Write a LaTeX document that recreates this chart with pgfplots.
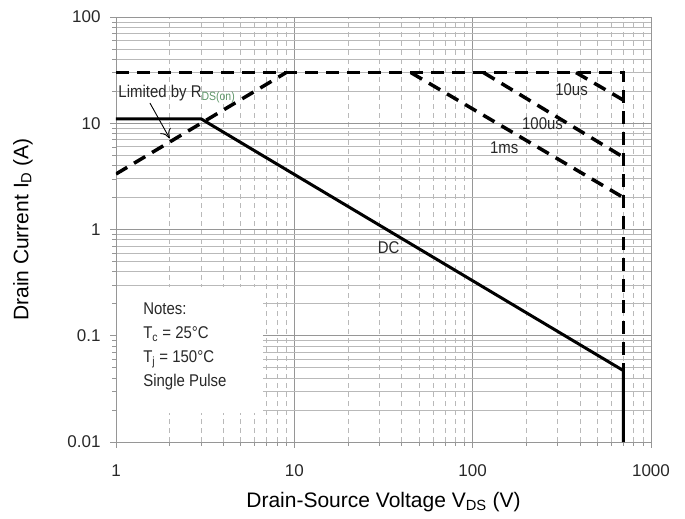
\documentclass[border=0pt]{standalone}
\usepackage{fontspec}
\setmainfont{Liberation Sans}
\newfontfamily\annf{Liberation Sans}[FakeStretch=0.88]
\usepackage{pgfplots}
\pgfplotsset{compat=1.18}
\usetikzlibrary{arrows.meta}

\definecolor{gridmaj}{RGB}{150,150,150}
\definecolor{gridmin}{RGB}{185,185,185}
\definecolor{txt}{RGB}{40,40,40}
\definecolor{subgreen}{RGB}{95,150,105}

\begin{document}
\begin{tikzpicture}
\begin{axis}[
  scale only axis,
  width=535pt, height=425pt,
  xmode=log, ymode=log,
  xmin=1, xmax=1000, ymin=0.01, ymax=100,
  xtick={1,10,100,1000}, xticklabels={1,10,100,1000},
  ytick={0.01,0.1,1,10,100}, yticklabels={0.01,0.1,1,10,100},
  /pgf/number format/assume math mode=true,
  tick align=outside, tick pos=left,
  major tick length=6pt, minor tick length=4pt,
  tick style={gridmaj, line width=0.6pt},
  axis line style={gridmaj, line width=0.8pt},
  xmajorgrids, ymajorgrids, xminorgrids, yminorgrids,
  major grid style={gridmaj, line width=0.8pt},
  minor x grid style={gridmin, line width=0.6pt, dash pattern=on 5pt off 4pt},
  minor y grid style={gridmin, line width=0.7pt},
  ticklabel style={font=\fontsize{17}{19}\selectfont, text=txt},
  xticklabel style={anchor=center, yshift=-23pt},
  yticklabel style={anchor=east, xshift=-6pt},
  xlabel={Drain-Source Voltage V\textsubscript{DS} (V)},
  ylabel={Drain Current I\textsubscript{D} (A)},
  label style={font=\fontsize{21}{24}\selectfont, text=black},
  xlabel style={at={(axis description cs:0.5,-0.141)}, anchor=center},
  ylabel style={at={(axis description cs:-0.174,0.5)}, anchor=center},
]
\coordinate (sw) at (rel axis cs:0,0);
\coordinate (ne) at (rel axis cs:1,1);

% notes box hides the grid
\fill[white] (axis cs:1.015,0.0188) rectangle (axis cs:6.7,0.29);

% DC limit
\addplot[black, line width=3pt, line join=round] coordinates {
  (1,11) (3,11) (700,0.047) (700,0.01)
};
% limits: RDS(on), current, voltage
\addplot[black, line width=3.5pt, dash pattern=on 13pt off 8pt] coordinates {
  (1,3.33) (9,30)
};
\addplot[black, line width=3.5pt, dash pattern=on 13pt off 8pt] coordinates {
  (1,30) (700,30) (700,0.047)
};
% pulse limits
\addplot[black, line width=3.5pt, dash pattern=on 13pt off 8pt] coordinates {
  (45,30) (700,2.0)
};
\addplot[black, line width=3.5pt, dash pattern=on 13pt off 8pt] coordinates {
  (115,30) (700,4.8)
};
\addplot[black, line width=3.5pt, dash pattern=on 13pt off 8pt] coordinates {
  (380,30) (700,16.5)
};

\draw[black, line width=0.9pt, -{To[length=9pt,width=12pt]}] (axis cs:1.55,15.5) -- (axis cs:2.0,7.2);

\node[anchor=base west, inner sep=0pt, font=\annf\fontsize{17}{19}\selectfont, text=txt]
  at (axis cs:1.03,17.3) {Limited by R\textsubscript{\textcolor{subgreen}{DS(on)}}};
\node[anchor=west, inner sep=0pt, font=\annf\fontsize{17}{19}\selectfont, text=txt] at (axis cs:290,20.5) {10us};
\node[anchor=west, inner sep=0pt, font=\annf\fontsize{17}{19}\selectfont, text=txt] at (axis cs:189,10) {100us};
\node[anchor=west, inner sep=0pt, font=\annf\fontsize{17}{19}\selectfont, text=txt] at (axis cs:125,5.9) {1ms};
\node[anchor=west, inner sep=0pt, font=\annf\fontsize{17}{19}\selectfont, text=txt] at (axis cs:29.3,0.68) {DC};

\node[anchor=north west, inner sep=0pt, align=left, font=\annf\fontsize{17}{24}\selectfont, text=txt]
  at (axis cs:1.42,0.205) {Notes:\\T\textsubscript{c} = 25°C\\T\textsubscript{j} = 150°C\\Single Pulse};
\end{axis}
\pgfresetboundingbox
\path ([shift={(-116pt,-77pt)}]sw) rectangle ([shift={(34pt,17pt)}]ne);
\end{tikzpicture}
\end{document}
